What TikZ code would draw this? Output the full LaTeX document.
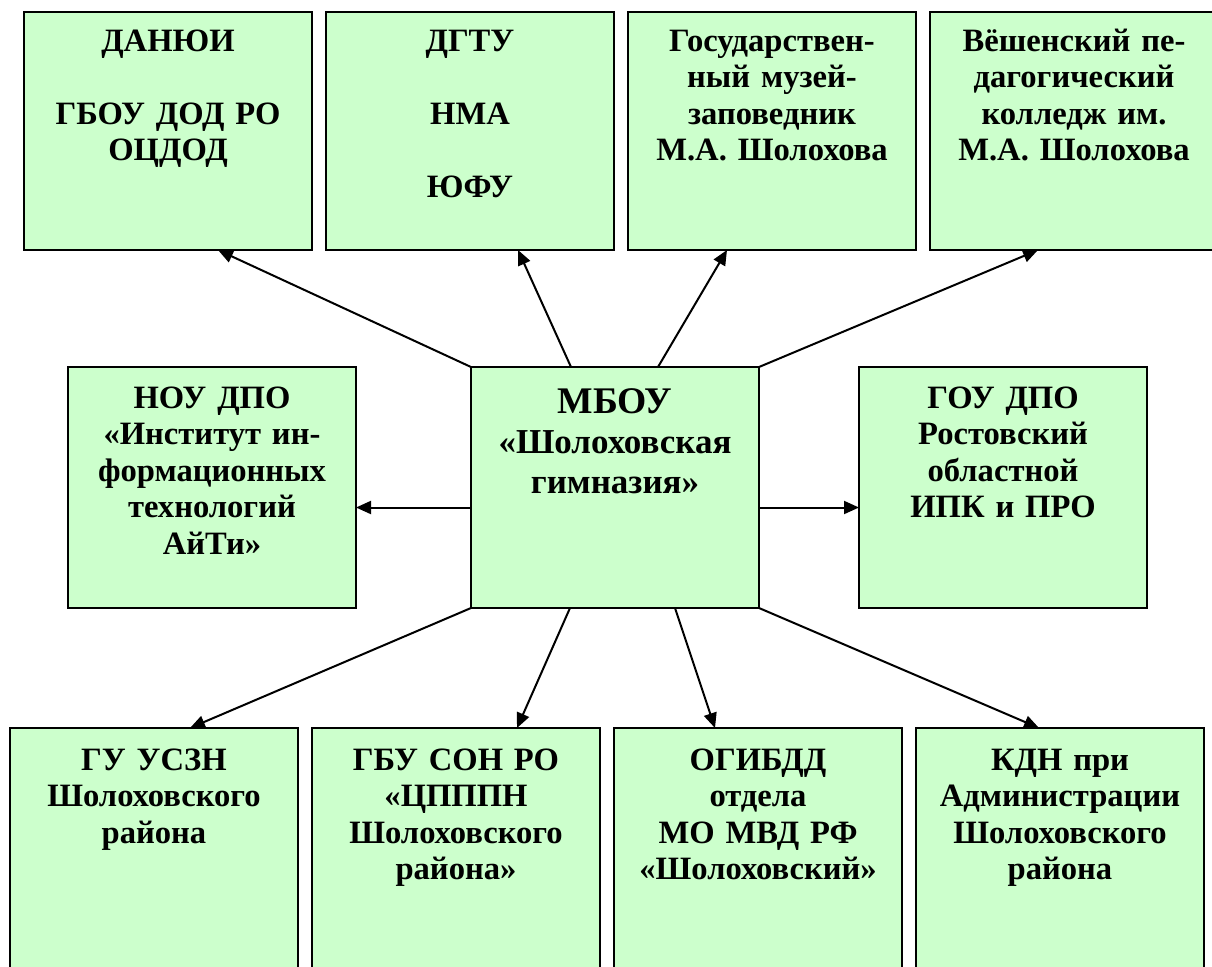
\documentclass[tikz,border=0pt]{standalone}
\usepackage{fontspec}
\setmainfont{Liberation Serif}
\usepackage{xcolor}
\usepackage{tikz}
\usetikzlibrary{positioning}
\usetikzlibrary{arrows.meta}

\definecolor{boxgreen}{HTML}{CCFFCC}

\begin{document}
\begin{tikzpicture}[x=0.5pt, y=-0.5pt,
        box/.style={draw, fill=boxgreen, line width=1pt, outer sep=0pt,
            text width=140pt, inner xsep=2pt, inner ysep=0pt, align=center,
            text height=19.5pt, text depth=99.5pt,
            font=\fontsize{16.3}{18.25}\selectfont\bfseries},
        midbox/.style={box, text height=20.5pt, text depth=100pt},
        lowbox/.style={box, text height=21pt, text depth=110pt}]

                \def\d{7pt}

                % the frame of the whole picture
                \clip (0,0) rectangle (1212,966);
                \useasboundingbox (0,0) rectangle (1212,966);

                % centre and the middle row
                \begin{scope}
                    \node[box, text height=23pt, text depth=97.5pt,
                        font=\fontsize{17.5}{20}\selectfont\bfseries]
                    (gym) at (615,487.5)
                    {{\fontsize{18.8}{20}\selectfont МБОУ}\\«Шолоховская\\гимназия»};
                    \node[midbox] (inst) [left=57.5pt of gym]
                    {НОУ ДПО\\«Институт ин-\\формационных\\технологий\\АйТи»};
                    \node[midbox] (gou) [right=50pt of gym]
                    {ГОУ ДПО\\Ростовский\\областной\\ИПК и ПРО};
                \end{scope}

                % top row
                \begin{scope}
                    \node[box, anchor=north] (danui) at (168,12)
                    {ДАНЮИ\\[18.25pt]ГБОУ ДОД РО\\ОЦДОД};
                    \node[box] (dgtu) [right=\d of danui]
                    {ДГТУ\\[18.25pt]НМА\\[18.25pt]ЮФУ};
                    \node[box] (muzey) [right=\d of dgtu]
                    {Государствен-\\ный музей-\\заповедник\\М.А. Шолохова};
                    \node[box] (kolledzh) [right=\d of muzey]
                    {Вёшенский пе-\\дагогический\\колледж им.\\М.А. Шолохова};
                \end{scope}

                % bottom row, cut off by the frame
                \begin{scope}
                    \node[lowbox, anchor=north] (uszn) at (154,728)
                    {ГУ УСЗН\\Шолоховского\\района};
                    \node[lowbox] (cpppn) [right=\d of uszn]
                    {ГБУ СОН РО\\«ЦПППН\\Шолоховского\\района»};
                    \node[lowbox] (ogibdd) [right=\d of cpppn]
                    {ОГИБДД\\отдела\\МО МВД РФ\\«Шолоховский»};
                    \node[lowbox] (kdn) [right=\d of ogibdd]
                    {КДН при\\Администрации\\Шолоховского\\района};
                \end{scope}

                \begin{scope}[line width=1pt, -{Triangle[length=7.5pt, width=6.5pt]}]
                    \draw (gym.north west) -- ([xshift=97pt]danui.south west);
                    \draw ([xshift=50pt]gym.north west) -- ([xshift=96pt]dgtu.south west);
                    \draw ([xshift=93.5pt]gym.north west) -- ([xshift=49.5pt]muzey.south west);
                    \draw (gym.north east) -- ([xshift=54pt]kolledzh.south west);
                    \draw ([yshift=-10pt]gym.west) -- ([yshift=-10pt]inst.east);
                    \draw ([yshift=-10pt]gym.east) -- ([yshift=-10pt]gou.west);
                    \draw (gym.south west) -- ([xshift=90pt]uszn.north west);
                    \draw ([xshift=49.5pt]gym.south west) -- ([xshift=102.5pt]cpppn.north west);
                    \draw ([xshift=102pt]gym.south west) -- ([xshift=50.5pt]ogibdd.north west);
                    \draw (gym.south east) -- ([xshift=61.5pt]kdn.north west);
                \end{scope}

\end{tikzpicture}
\end{document}
